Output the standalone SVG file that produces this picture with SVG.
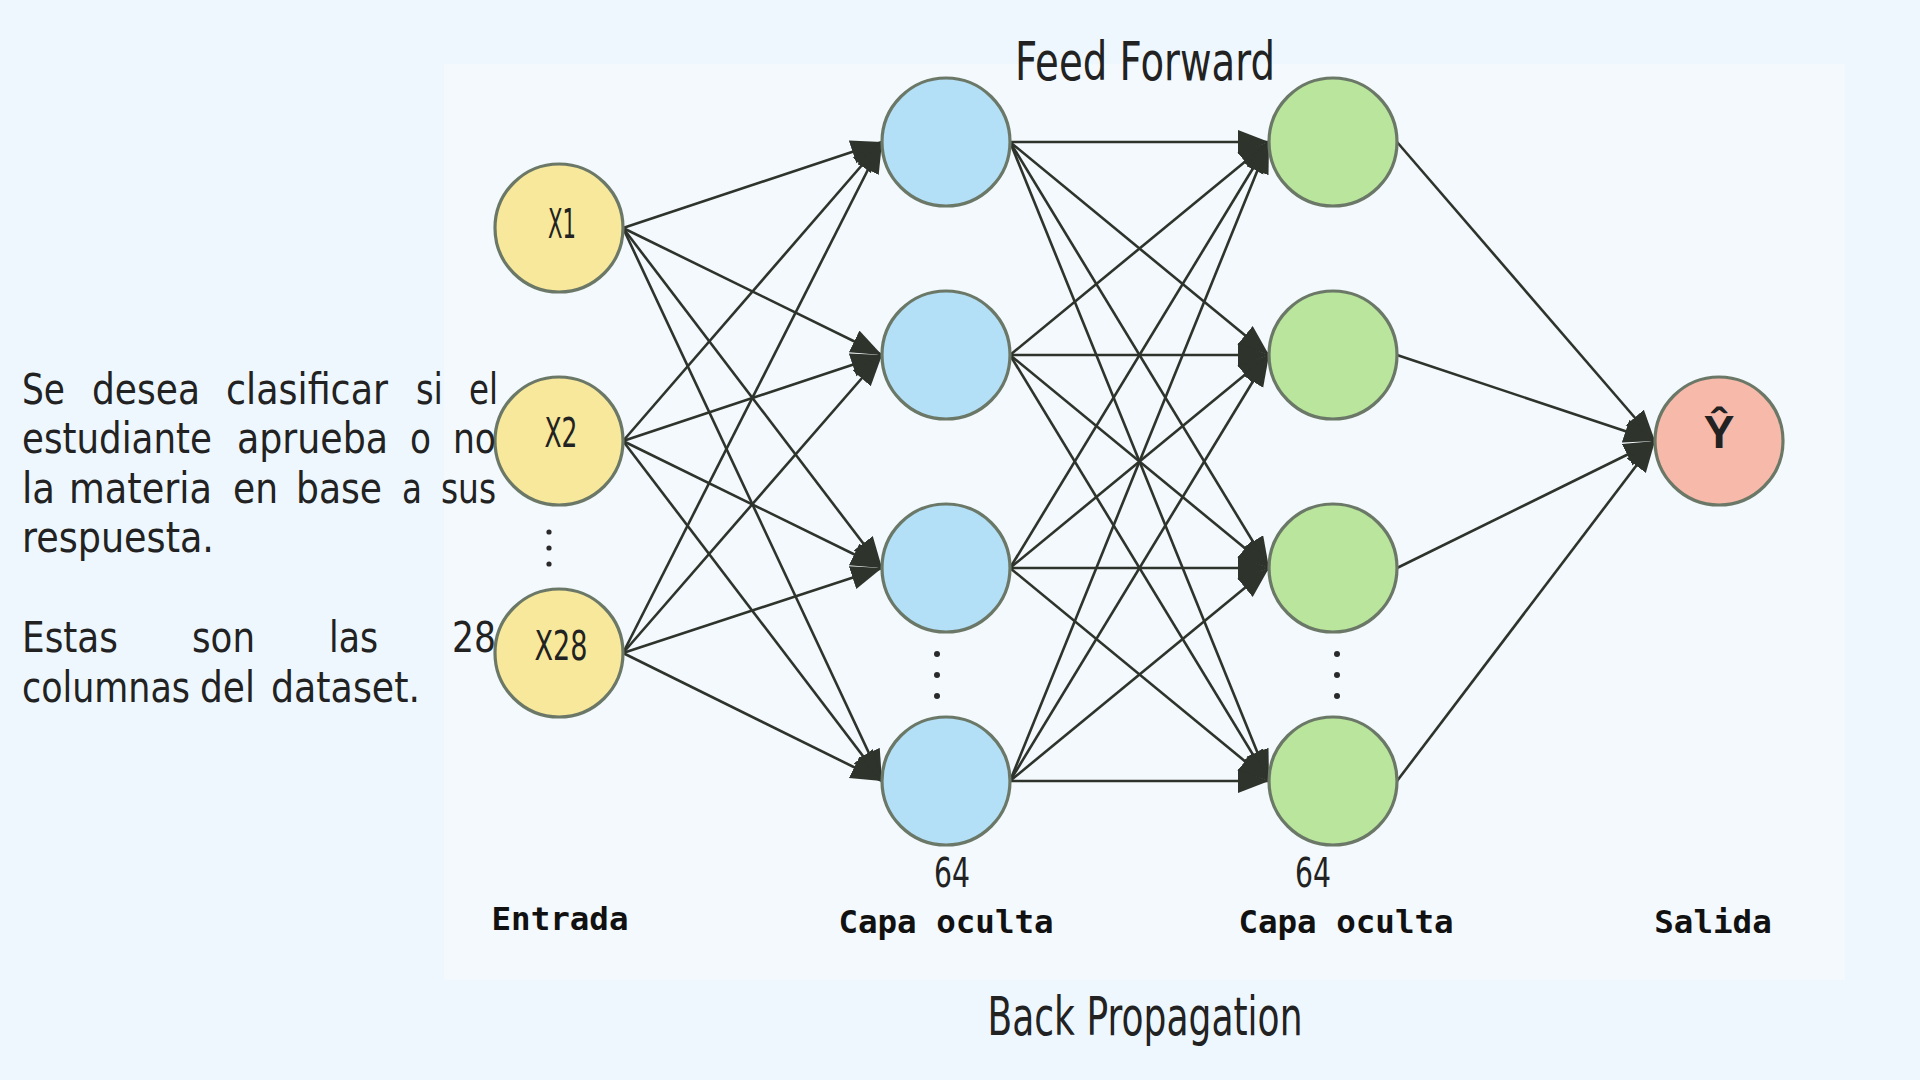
<svg xmlns="http://www.w3.org/2000/svg" width="1920" height="1080" viewBox="0 0 1920 1080">
<defs>
<marker id="arr" markerUnits="userSpaceOnUse" markerWidth="32" markerHeight="26" refX="31" refY="12" orient="auto">
<path d="M0,0 L31,12 L0,24 Z" fill="#2E332B"/>
</marker>
<style>
.edge{stroke:#2E332B;stroke-width:2.6;fill:none;marker-end:url(#arr)}
.node{stroke:#6B7867;stroke-width:3.2}
.in{fill:#F7E89B}
.h1{fill:#B3E0F7}
.h2{fill:#BAE59D}
.out{fill:#F6B9AA}
.hand{font-family:"DejaVu Sans","Noto Sans",sans-serif;fill:#222222}
.mono{font-family:"DejaVu Sans Mono","Liberation Mono",monospace;font-weight:bold;font-size:32.5px;fill:#111111;text-anchor:middle}
.dot{fill:#2A2A2A}
</style>
</defs>
<rect x="0" y="0" width="1920" height="1080" fill="#EEF7FD"/>
<rect x="444" y="64" width="1401" height="916" fill="#F3F9FC"/>

<g id="connectors">
<line class="edge" x1="623" y1="228" x2="882" y2="142"/>
<line class="edge" x1="623" y1="228" x2="882" y2="355"/>
<line class="edge" x1="623" y1="228" x2="882" y2="568"/>
<line class="edge" x1="623" y1="228" x2="882" y2="781"/>
<line class="edge" x1="623" y1="441" x2="882" y2="142"/>
<line class="edge" x1="623" y1="441" x2="882" y2="355"/>
<line class="edge" x1="623" y1="441" x2="882" y2="568"/>
<line class="edge" x1="623" y1="441" x2="882" y2="781"/>
<line class="edge" x1="623" y1="653" x2="882" y2="142"/>
<line class="edge" x1="623" y1="653" x2="882" y2="355"/>
<line class="edge" x1="623" y1="653" x2="882" y2="568"/>
<line class="edge" x1="623" y1="653" x2="882" y2="781"/>
<line class="edge" x1="1010" y1="142" x2="1269" y2="142"/>
<line class="edge" x1="1010" y1="142" x2="1269" y2="355"/>
<line class="edge" x1="1010" y1="142" x2="1269" y2="568"/>
<line class="edge" x1="1010" y1="142" x2="1269" y2="781"/>
<line class="edge" x1="1010" y1="355" x2="1269" y2="142"/>
<line class="edge" x1="1010" y1="355" x2="1269" y2="355"/>
<line class="edge" x1="1010" y1="355" x2="1269" y2="568"/>
<line class="edge" x1="1010" y1="355" x2="1269" y2="781"/>
<line class="edge" x1="1010" y1="568" x2="1269" y2="142"/>
<line class="edge" x1="1010" y1="568" x2="1269" y2="355"/>
<line class="edge" x1="1010" y1="568" x2="1269" y2="568"/>
<line class="edge" x1="1010" y1="568" x2="1269" y2="781"/>
<line class="edge" x1="1010" y1="781" x2="1269" y2="142"/>
<line class="edge" x1="1010" y1="781" x2="1269" y2="355"/>
<line class="edge" x1="1010" y1="781" x2="1269" y2="568"/>
<line class="edge" x1="1010" y1="781" x2="1269" y2="781"/>
<line class="edge" x1="1397" y1="142" x2="1655" y2="441"/>
<line class="edge" x1="1397" y1="355" x2="1655" y2="441"/>
<line class="edge" x1="1397" y1="568" x2="1655" y2="441"/>
<line class="edge" x1="1397" y1="781" x2="1655" y2="441"/>
</g>

<g id="input-x1">
<circle class="node in" cx="559" cy="228" r="64"/>
<text class="hand" x="562" y="238" font-size="40" text-anchor="middle" textLength="28" lengthAdjust="spacingAndGlyphs">X1</text>
</g>
<g id="input-x2">
<circle class="node in" cx="559" cy="441" r="64"/>
<text class="hand" x="561" y="447" font-size="40" text-anchor="middle" textLength="33" lengthAdjust="spacingAndGlyphs">X2</text>
</g>
<g id="input-dots">
<circle class="dot" cx="549" cy="532" r="2.6"/>
<circle class="dot" cx="549" cy="548" r="2.6"/>
<circle class="dot" cx="549" cy="564" r="2.6"/>
</g>
<g id="input-x28">
<circle class="node in" cx="559" cy="653" r="64"/>
<text class="hand" x="561" y="660" font-size="40" text-anchor="middle" textLength="53" lengthAdjust="spacingAndGlyphs">X28</text>
</g>

<g id="hidden1-1"><circle class="node h1" cx="946" cy="142" r="64"/></g>
<g id="hidden1-2"><circle class="node h1" cx="946" cy="355" r="64"/></g>
<g id="hidden1-3"><circle class="node h1" cx="946" cy="568" r="64"/></g>
<g id="hidden1-dots">
<circle class="dot" cx="937" cy="654" r="3"/>
<circle class="dot" cx="937" cy="675" r="3"/>
<circle class="dot" cx="937" cy="696" r="3"/>
</g>
<g id="hidden1-4"><circle class="node h1" cx="946" cy="781" r="64"/></g>

<g id="hidden2-1"><circle class="node h2" cx="1333" cy="142" r="64"/></g>
<g id="hidden2-2"><circle class="node h2" cx="1333" cy="355" r="64"/></g>
<g id="hidden2-3"><circle class="node h2" cx="1333" cy="568" r="64"/></g>
<g id="hidden2-dots">
<circle class="dot" cx="1337" cy="654" r="3"/>
<circle class="dot" cx="1337" cy="675" r="3"/>
<circle class="dot" cx="1337" cy="696" r="3"/>
</g>
<g id="hidden2-4"><circle class="node h2" cx="1333" cy="781" r="64"/></g>

<g id="output">
<circle class="node out" cx="1719" cy="441" r="64"/>
<text x="1719" y="448" font-family="Liberation Sans, Arial, sans-serif" font-weight="bold" font-size="46" fill="#222222" text-anchor="middle">Ŷ</text>
</g>

<g id="labels">
<text class="hand" x="1145" y="80" font-size="54" text-anchor="middle" textLength="260" lengthAdjust="spacingAndGlyphs">Feed Forward</text>
<text class="hand" x="1145" y="1035" font-size="54" text-anchor="middle" textLength="315" lengthAdjust="spacingAndGlyphs">Back Propagation</text>
<text class="hand" x="952" y="887" font-size="40" text-anchor="middle" textLength="36" lengthAdjust="spacingAndGlyphs">64</text>
<text class="hand" x="1313" y="887" font-size="40" text-anchor="middle" textLength="36" lengthAdjust="spacingAndGlyphs">64</text>
<text class="mono" x="560" y="930">Entrada</text>
<text class="mono" x="946" y="933">Capa oculta</text>
<text class="mono" x="1346" y="933">Capa oculta</text>
<text class="mono" x="1713" y="933">Salida</text>
</g>

<g id="description" class="hand" font-size="42" transform="scale(0.8,1)">
<text y="404"><tspan x="27.5" textLength="53.75" lengthAdjust="spacingAndGlyphs">Se</tspan> <tspan x="115" textLength="135" lengthAdjust="spacingAndGlyphs">desea</tspan> <tspan x="282.5" textLength="202.5" lengthAdjust="spacingAndGlyphs">clasificar</tspan> <tspan x="520" textLength="33.75" lengthAdjust="spacingAndGlyphs">si</tspan> <tspan x="586.25" textLength="36.25" lengthAdjust="spacingAndGlyphs">el</tspan></text>
<text y="453"><tspan x="27.5" textLength="237.5" lengthAdjust="spacingAndGlyphs">estudiante</tspan> <tspan x="296.25" textLength="188.75" lengthAdjust="spacingAndGlyphs">aprueba</tspan> <tspan x="512.5" textLength="26.25" lengthAdjust="spacingAndGlyphs">o</tspan> <tspan x="566.25" textLength="53.75" lengthAdjust="spacingAndGlyphs">no</tspan></text>
<text y="503"><tspan x="27.5" textLength="41.25" lengthAdjust="spacingAndGlyphs">la</tspan> <tspan x="86.25" textLength="178.75" lengthAdjust="spacingAndGlyphs">materia</tspan> <tspan x="291.25" textLength="56.25" lengthAdjust="spacingAndGlyphs">en</tspan> <tspan x="370" textLength="107.5" lengthAdjust="spacingAndGlyphs">base</tspan> <tspan x="502.5" textLength="25" lengthAdjust="spacingAndGlyphs">a</tspan> <tspan x="551.25" textLength="68.75" lengthAdjust="spacingAndGlyphs">sus</tspan></text>
<text y="552"><tspan x="27.5" textLength="240" lengthAdjust="spacingAndGlyphs">respuesta.</tspan></text>
<text y="652"><tspan x="27.5" textLength="120" lengthAdjust="spacingAndGlyphs">Estas</tspan> <tspan x="240" textLength="78.75" lengthAdjust="spacingAndGlyphs">son</tspan> <tspan x="411.25" textLength="61.25" lengthAdjust="spacingAndGlyphs">las</tspan> <tspan x="565" textLength="55" lengthAdjust="spacingAndGlyphs">28</tspan></text>
<text y="702"><tspan x="27.5" textLength="210" lengthAdjust="spacingAndGlyphs">columnas</tspan> <tspan x="250" textLength="68.75" lengthAdjust="spacingAndGlyphs">del</tspan> <tspan x="338.75" textLength="186.25" lengthAdjust="spacingAndGlyphs">dataset.</tspan></text>
</g>
</svg>
